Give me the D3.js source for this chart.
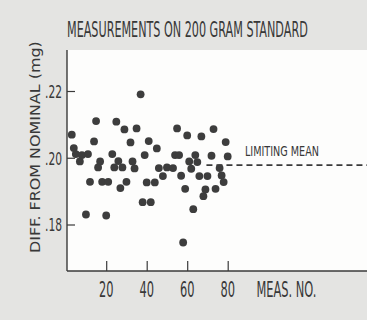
<!DOCTYPE html>
<html><head><meta charset="utf-8">
<script src="https://cdn.jsdelivr.net/npm/d3@7"></script>
<style>
html,body{margin:0;padding:0;background:#e4e4e2;}
svg{display:block;}
text{font-family:"Liberation Sans Narrow","DejaVu Sans Condensed","Liberation Sans",sans-serif;fill:#383838;}
</style></head>
<body>
<svg id="chart" width="367" height="320"></svg>
<script>
// ---- data ----
const measNo = [3,4,5,7,8,10,11,12,14,15,16,17,18,20,21,23,24,25,26,27,28,29,30,32,33,34,35,37,38,39,40,41,42,44,45,46,48,50,53,54,55,56,57,58,59,60,61,62,63,64,65,66,67,68,69,70,72,73,74,76,77,78,79,80];
const diffMg = [0.2069,0.2029,0.2011,0.1989,0.2008,0.1830,0.2011,0.1928,0.2049,0.2110,0.1971,0.1989,0.1928,0.1827,0.1928,0.2011,0.1971,0.2108,0.1990,0.1909,0.1971,0.2085,0.1928,0.2046,0.1989,0.1968,0.2088,0.2190,0.1867,0.2008,0.1926,0.2050,0.1867,0.1926,0.2028,0.1969,0.1945,0.1971,0.1969,0.2008,0.2088,0.2008,0.1946,0.1746,0.1907,0.2067,0.1989,0.1967,0.1846,0.2008,0.1987,0.1945,0.2064,0.1885,0.1905,0.1945,0.2006,0.2086,0.1907,0.1969,0.1947,0.1927,0.2047,0.2004];
const xTicks = [20,40,60,80];
const yTicks = [0.18,0.20,0.22];
const yTickLabels = [".18",".20",".22"];
const limitingMean = 0.1978;
const meanStart = 69.5;
const titleText = "MEASUREMENTS ON 200 GRAM STANDARD";
const yLabel = "DIFF. FROM NOMINAL (mg)";
const xLabel = "MEAS. NO.";
const meanLabel = "LIMITING MEAN";

// ---- layout ----
const svg = d3.select("#chart");
const W = 367, H = 320;
const plotLeft = 67, plotTop = 50, plotBottom = 271, plotRight = 367;
const x = d3.scaleLinear().domain([0, 80]).range([65.7, 227.7]);
const y = d3.scaleLinear().domain([0.18, 0.22]).range([224.5, 91]);
const ink = "#3a3a3a";

// place a text so its width equals targetW by condensing horizontally
function fitText(sel, tx, ty, targetW, anchor, rot) {
  const natural = sel.node().getComputedTextLength();
  const s = targetW / natural;
  let dx = 0;
  if (anchor === "middle") dx = -targetW / 2;
  if (anchor === "end") dx = -targetW;
  sel.attr("x", 0).attr("y", 0).attr("text-anchor", "start")
    .attr("transform", `translate(${tx},${ty})${rot ? " rotate(" + rot + ")" : ""} translate(${dx},0) scale(${s},1)`);
}

svg.append("rect").attr("x",0).attr("y",0).attr("width",W).attr("height",H).attr("fill","#e4e4e2");
svg.append("rect").attr("x",plotLeft).attr("y",plotTop).attr("width",plotRight-plotLeft).attr("height",plotBottom-plotTop).attr("fill","#fdfdfc");

// axes lines
svg.append("line").attr("x1",plotLeft).attr("x2",plotLeft).attr("y1",plotTop).attr("y2",plotBottom)
  .attr("stroke",ink).attr("stroke-width",1.4);
svg.append("line").attr("x1",plotLeft).attr("x2",plotRight).attr("y1",plotBottom).attr("y2",plotBottom)
  .attr("stroke",ink).attr("stroke-width",1.4);

// y axis (ticks pointing inward)
const yAxis = d3.axisRight(y).tickValues(yTicks).tickSize(8).tickFormat("");
const gy = svg.append("g").attr("transform",`translate(${plotLeft},0)`).call(yAxis);
gy.select(".domain").remove();
gy.selectAll(".tick line").attr("stroke",ink).attr("stroke-width",1.2);
yTicks.forEach((d,i) => {
  const t = svg.append("text").attr("class","ylab").attr("font-size",18).text(yTickLabels[i]);
  fitText(t, 62, y(d) + 6.8, 17, "end");
});

// x axis (ticks pointing up)
const xAxis = d3.axisTop(x).tickValues(xTicks).tickSize(10).tickFormat("");
const gx = svg.append("g").attr("transform",`translate(0,${plotBottom})`).call(xAxis);
gx.select(".domain").remove();
gx.selectAll(".tick line").attr("stroke",ink).attr("stroke-width",1.2);
xTicks.forEach(d => {
  const t = svg.append("text").attr("class","xlab").attr("font-size",21).text(d);
  fitText(t, x(d), 297, 14.5, "middle");
});

fitText(svg.append("text").attr("font-size",21).text(xLabel), 256.5, 297, 60, "start");

// title
fitText(svg.append("text").attr("font-size",21.5).text(titleText), 67, 37, 241, "start");

// y label
fitText(svg.append("text").attr("font-size",14.5).text(yLabel), 40, 253, 212, "start", -90);

// limiting mean dashed line
svg.append("line").attr("x1",x(meanStart)).attr("x2",plotRight).attr("y1",y(limitingMean)).attr("y2",y(limitingMean))
  .attr("stroke",ink).attr("stroke-width",1.6).attr("stroke-dasharray","6,4");
fitText(svg.append("text").attr("font-size",14).text(meanLabel), 245, 156, 74, "start");

// points
svg.selectAll("circle.pt").data(measNo).enter().append("circle")
  .attr("class","pt")
  .attr("cx",d=>x(d)).attr("cy",(d,i)=>y(diffMg[i]))
  .attr("r",3.9).attr("fill","#3d3d3d");
</script>
</body></html>
